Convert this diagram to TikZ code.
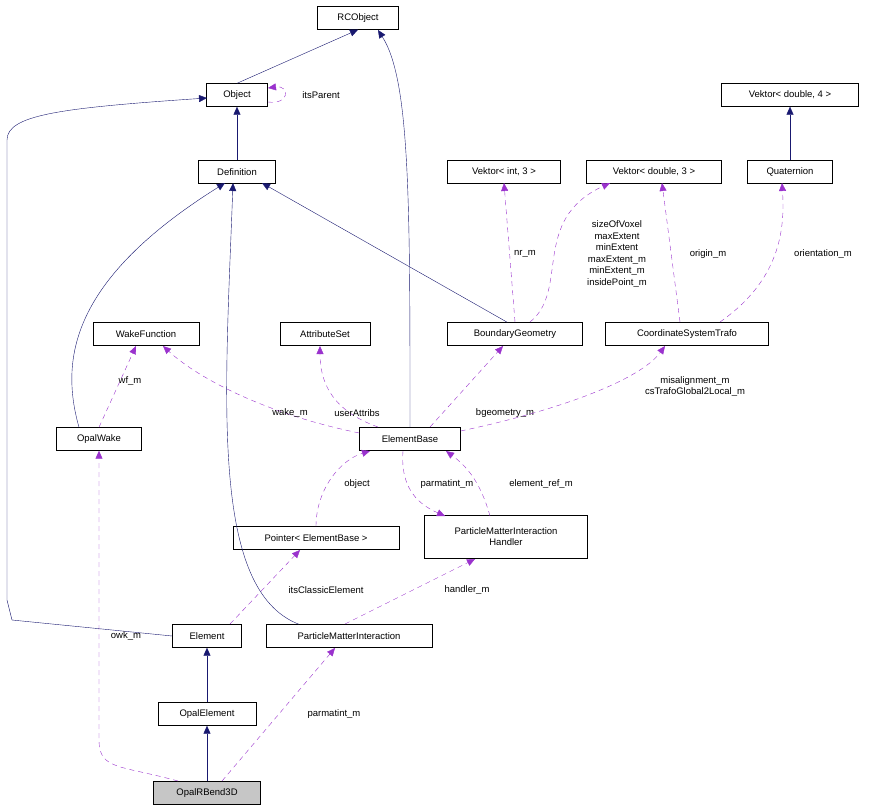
\documentclass[tikz,border=0pt]{standalone}
\usepackage{fontspec}
\setmainfont{Liberation Sans}
\usetikzlibrary{arrows.meta}
\definecolor{navy}{RGB}{25,25,112}
\definecolor{purp}{RGB}{154,50,205}
\begin{document}
\begin{tikzpicture}[x=1pt,y=-1pt,font=\fontsize{9.5}{11}\selectfont,
 box/.style={draw,fill=white,inner sep=0pt,minimum height=23pt,align=center},
 inh/.style={navy,-{Triangle[length=8pt,width=7pt]}},
 use/.style={purp,dashed,dash pattern=on 5pt off 4pt,-{Triangle[length=8pt,width=7pt]}},
 lab/.style={align=center,inner sep=1pt}]
\useasboundingbox (0,0) rectangle (869,811);
\node[box,minimum width=81pt] (rc) at (358,18) {RCObject};
\node[box,minimum width=61pt] (obj) at (237,95) {Object};
\node[box,minimum width=77pt] (def) at (237,172) {Definition};
\node[box,minimum width=137pt] (v4) at (790,95) {Vektor< double, 4 >};
\node[box,minimum width=113pt] (vi3) at (504,172) {Vektor< int, 3 >};
\node[box,minimum width=135pt] (vd3) at (654,172) {Vektor< double, 3 >};
\node[box,minimum width=85pt] (q) at (790,172) {Quaternion};
\node[box,minimum width=106pt] (wf) at (146,334) {WakeFunction};
\node[box,minimum width=90pt] (as) at (325,334) {AttributeSet};
\node[box,minimum width=135pt] (bg) at (515,334) {BoundaryGeometry};
\node[box,minimum width=163pt] (cst) at (687,334) {CoordinateSystemTrafo};
\node[box,minimum width=85pt] (ow) at (99,439) {OpalWake};
\node[box,minimum width=101pt] (eb) at (410,439) {ElementBase};
\node[box,minimum width=166pt] (ptr) at (316,538) {Pointer< ElementBase >};
\node[box,minimum width=163pt,minimum height=43pt] (pmih) at (506,537) {ParticleMatterInteraction\\Handler};
\node[box,minimum width=69pt] (el) at (207,636) {Element};
\node[box,minimum width=166pt] (pmi) at (349,636) {ParticleMatterInteraction};
\node[box,minimum width=98pt] (oe) at (207,714) {OpalElement};
\node[box,minimum width=107pt,fill=gray!45] (rb) at (207,793) {OpalRBend3D};
% inheritance
\draw[inh] (obj.north) -- (rc.south);
\draw[inh] (def.north) -- (obj.south);
\draw[inh] (eb.north) .. controls (410,200) and (410,80) .. (378,30);
\draw[inh] (bg.north west) ++(60,0) -- (262,183);
\draw[inh] (ow.north) ++(-20,0) .. controls (60,360) and (70,280) .. (225,183);
\draw[inh] (pmi.north) ++(-50,0) .. controls (210,590) and (225,400) .. (233,183);
\draw[inh] (el.west) -- (12,620) -- (7,600) -- (7,140) .. controls (7,115) and (60,108) .. (207,98);
\draw[inh] (oe.north) -- (el.south);
\draw[inh] (rb.north) -- (oe.south);
\draw[inh] (q.north) -- (v4.south);
% usage
\draw[use] (268,102) .. controls (290,105) and (290,85) .. (268,88);
\node[lab] at (321,95) {itsParent};
\draw[use] (515,322) -- (504,183); \node[lab] at (525,254) {nr\_m};
\draw[use] (530,322) .. controls (570,290) and (530,220) .. (610,183);
\node[lab,font=\fontsize{9.5}{11.6}\selectfont] at (617,254) {sizeOfVoxel\\maxExtent\\minExtent\\maxExtent\_m\\minExtent\_m\\insidePoint\_m};
\draw[use] (680,322) -- (662,183); \node[lab] at (708,254) {origin\_m};
\draw[use] (720,322) .. controls (780,280) and (785,230) .. (782,183); \node[lab] at (823,254) {orientation\_m};
\draw[use] (ow.north) -- (136,346); \node[lab] at (130,381) {wf\_m};
\draw[use] (eb.west) ++(0,-6) .. controls (270,415) and (200,380) .. (163,346); \node[lab] at (290,413) {wake\_m};
\draw[use] (378,427) .. controls (330,410) and (320,380) .. (320,346); \node[lab] at (357,413) {userAttribs};
\draw[use] (430,427) -- (503,346); \node[lab] at (505,413) {bgeometry\_m};
\draw[use] (eb.east) ++(0,-8) .. controls (560,410) and (640,380) .. (665,346);
\node[lab] at (695,386) {misalignment\_m\\csTrafoGlobal2Local\_m};
\draw[use] (ptr.north) .. controls (316,490) and (340,460) .. (370,451); \node[lab] at (357,484) {object};
\draw[use] (403,451) .. controls (400,490) and (420,505) .. (445,516); \node[lab] at (447,484) {parmatint\_m};
\draw[use] (490,516) .. controls (480,480) and (465,465) .. (446,451); \node[lab] at (541,484) {element\_ref\_m};
\draw[use] (230,624) -- (300,550); \node[lab] at (326,590) {itsClassicElement};
\draw[use] (345,624) -- (475,559); \node[lab] at (467,590) {handler\_m};
\draw[use] (178,781) .. controls (120,765) and (99,770) .. (99,740) -- (ow.south); \node[lab] at (126,636) {owk\_m};
\draw[use] (222,781) -- (335,648); \node[lab] at (334,714) {parmatint\_m};
\end{tikzpicture}
\end{document}
